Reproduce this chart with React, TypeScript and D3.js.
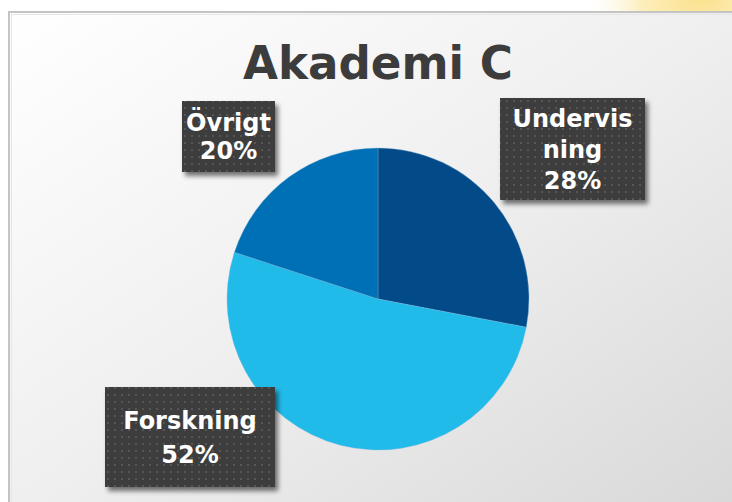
import React from 'react';
import * as d3 from 'd3';

const title = 'Akademi C';
const categories = ['Undervisning', 'Forskning', 'Övrigt'];
const values = [28, 52, 20];
const labelLines = [
  ['Undervis', 'ning', '28%'],
  ['Forskning', '52%'],
  ['Övrigt', '20%'],
];
const colors = ['#034a88', '#21bbea', '#0070b6'];

// layout for the label boxes: [x, y, w, h, lineHeight]
const boxLayout = [
  [500, 98, 145, 102, 31],
  [105, 387, 170, 100, 34],
  [182, 101, 93, 71, 28],
];

const W = 732;
const H = 502;
const cx = 378;
const cy = 299;
const R = 151;
const FONT = '"DejaVu Sans", Lato, sans-serif';

export default function App() {
  const pie = d3
    .pie<number>()
    .sort(null)
    .value((d) => d)
    .startAngle(0)
    .endAngle(2 * Math.PI);
  const arcs = pie(values);
  const arc = d3.arc<d3.PieArcDatum<number>>().innerRadius(0).outerRadius(R);

  return (
    <svg
      width={W}
      height={H}
      style={{ position: 'absolute', left: 0, top: 0, display: 'block' }}
      fontFamily={FONT}
    >
      <defs>
        <linearGradient id="bg" x1="0" y1="0" x2="1" y2="1">
          <stop offset="0" stopColor="#ffffff" />
          <stop offset="0.5" stopColor="#efefef" />
          <stop offset="1" stopColor="#d8d8d8" />
        </linearGradient>
        <radialGradient id="glow" cx="700" cy="-10" r="120" gradientUnits="userSpaceOnUse">
          <stop offset="0" stopColor="#fbe08a" />
          <stop offset="0.5" stopColor="#fdeebc" />
          <stop offset="1" stopColor="#ffffff" stopOpacity="0" />
        </radialGradient>
        <pattern id="dots" x="0" y="0" width="7" height="7" patternUnits="userSpaceOnUse">
          <rect width="7" height="7" fill="#3d3d3d" />
          <rect x="2" y="2" width="2" height="2" fill="#575757" />
        </pattern>
        <filter id="shadow" x="-20%" y="-20%" width="150%" height="150%">
          <feGaussianBlur in="SourceAlpha" stdDeviation="2.5" />
          <feOffset dx="3" dy="4" result="ob" />
          <feComponentTransfer>
            <feFuncA type="linear" slope="0.55" />
          </feComponentTransfer>
          <feMerge>
            <feMergeNode />
            <feMergeNode in="SourceGraphic" />
          </feMerge>
        </filter>
      </defs>

      <rect x={0} y={0} width={W} height={H} fill="#ffffff" />
      <rect x={560} y={0} width={172} height={14} fill="url(#glow)" />

      {/* chart area */}
      <rect x={9} y={12} width={W} height={H} fill="url(#bg)" stroke="#c4c4c4" strokeWidth={2} />
      <rect x={11.5} y={14.5} width={W} height={H} fill="none" stroke="#e6e6e6" strokeWidth={1} />

      <text
        x={cx}
        y={79}
        textAnchor="middle"
        fontSize={46}
        fontWeight={700}
        fill="#3c3c3c"
        textLength={270}
        lengthAdjust="spacingAndGlyphs"
      >
        {title}
      </text>

      <g transform={`translate(${cx},${cy})`}>
        {arcs.map((a, i) => (
          <path key={categories[i]} d={arc(a) || ''} fill={colors[i]} stroke="#7fb4d8" strokeWidth={0.6} strokeOpacity={0.6} />
        ))}
      </g>

      {labelLines.map((lines, i) => {
        const [bx, by, bw, bh, lh] = boxLayout[i];
        const mid = by + bh / 2;
        return (
          <g key={categories[i]}>
            <rect x={bx} y={by} width={bw} height={bh} fill="url(#dots)" filter="url(#shadow)" />
            {lines.map((t, j) => (
              <text
                key={j}
                x={bx + bw / 2}
                y={mid + (j - (lines.length - 1) / 2) * lh + 8.5}
                textAnchor="middle"
                fontSize={24}
                fontWeight={700}
                fill="#ffffff"
              >
                {t}
              </text>
            ))}
          </g>
        );
      })}
    </svg>
  );
}
